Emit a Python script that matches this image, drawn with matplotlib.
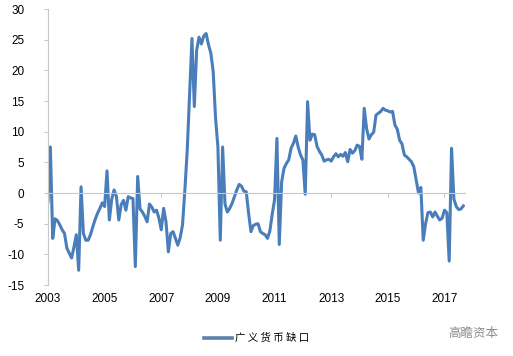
import matplotlib
matplotlib.use("Agg")
import matplotlib.pyplot as plt
import numpy as np

# Monthly series, Jan 2003 .. Sep 2017
start_year = 2003
values = [
    -1.4, 7.5, -7.4, -4.2, -4.5, -5.2, -6.0, -6.6, -9.0, -9.8,
    -10.6, -8.8, -6.8, -12.6, 1.0, -6.6, -7.7, -7.7, -6.8, -5.5,
    -4.3, -3.3, -2.5, -1.6, -2.2, 3.6, -4.4, -1.0, 0.5, -0.6,
    -4.4, -1.9, -1.2, -2.8, -0.6, -0.8, -0.9, -12.0, 2.7, -2.6,
    -3.1, -3.8, -4.7, -1.8, -2.3, -3.1, -2.8, -4.1, -6.0, -2.5,
    -4.7, -9.6, -6.6, -6.3, -7.4, -8.5, -7.3, -5.2, 0.5, 7.0,
    16.0, 25.2, 14.1, 23.3, 25.4, 24.3, 25.6, 26.0, 24.2, 22.8,
    19.8, 12.2, 7.5, -7.7, 7.5, -1.8, -3.1, -2.5, -1.7, -0.6,
    0.5, 1.4, 1.1, 0.3, 0.2, -3.3, -6.3, -5.3, -5.1, -5.0,
    -6.3, -6.6, -6.8, -7.4, -6.2, -3.5, -1.1, 8.9, -8.4, 1.8,
    4.0, 4.8, 5.4, 7.3, 8.1, 9.3, 7.5, 6.2, 5.4, -0.2,
    14.9, 8.6, 9.6, 9.5, 7.6, 6.8, 6.2, 5.2, 5.4, 5.5,
    5.2, 5.9, 6.4, 5.9, 6.3, 6.0, 6.6, 5.1, 7.1, 6.5,
    6.9, 7.8, 7.6, 5.5, 13.8, 10.5, 8.8, 9.5, 9.9, 12.7,
    13.0, 13.3, 13.8, 13.5, 13.4, 13.2, 13.3, 11.1, 10.4, 8.6,
    8.0, 6.2, 5.9, 5.5, 5.1, 4.3, 2.1, 0.0, 0.9, -7.7,
    -5.0, -3.2, -3.1, -3.9, -3.1, -3.8, -4.4, -4.1, -2.8, -3.2,
    -11.1, 7.3, -1.0, -2.2, -2.7, -2.6, -2.1,
]
x_ticks = [2003, 2005, 2007, 2009, 2011, 2013, 2015, 2017]
y_ticks = [-15, -10, -5, 0, 5, 10, 15, 20, 25, 30]
series_label = "广 义 货 币 缺 口"
watermark = "高瞻资本"

x = start_year + np.arange(len(values)) / 12.0

fig = plt.figure(figsize=(5.13, 3.56), dpi=100)
ax = fig.add_axes([48 / 513, 1 - 285 / 356, (465 - 48) / 513, (285 - 9) / 356])

line_color = "#4a7ebb"
grid_gray = "#c8c8c8"
ax.plot(x, values, color=line_color, lw=2.2, solid_joinstyle="round",
        label=series_label)

ax.set_xlim(2003, 2003 + 176.7 / 12)
ax.set_ylim(-15, 30)
ax.set_yticks(y_ticks)
ax.set_yticklabels([str(v) for v in y_ticks], fontsize=8.5,
                   family="Liberation Sans")

for s in ["top", "right"]:
    ax.spines[s].set_visible(False)
ax.spines["left"].set_color(grid_gray)
ax.spines["left"].set_linewidth(0.8)
ax.spines["bottom"].set_position(("data", 0))
ax.spines["bottom"].set_color(grid_gray)
ax.spines["bottom"].set_linewidth(0.8)
ax.set_xticks(x_ticks)
ax.tick_params(axis="x", direction="out", length=3, color=grid_gray,
               labelbottom=False)
ax.tick_params(axis="y", direction="out", length=3, color=grid_gray, pad=14)

sec = ax.secondary_xaxis(0)
sec.set_xticks(x_ticks)
sec.set_xticklabels([str(v) for v in x_ticks], fontsize=8.5,
                    family="Liberation Sans")
sec.spines["bottom"].set_visible(False)
sec.tick_params(length=0, pad=6)

leg = fig.legend(loc="center", bbox_to_anchor=(0.5, 1 - 338 / 356),
                 frameon=False, handlelength=2.7, handletextpad=0.3,
                 prop={"family": ["Noto Sans CJK SC", "DejaVu Sans"], "size": 7.5})
leg.get_lines()[0].set_color("#5a82aa")
leg.get_lines()[0].set_linewidth(2.6)

fig.text(473 / 513, 1 - 333 / 356, watermark, ha="center", va="center",
         fontsize=9, color="#8c8c8c",
         family=["Noto Sans CJK SC", "DejaVu Sans"])

fig.savefig("out.png", dpi=100)
